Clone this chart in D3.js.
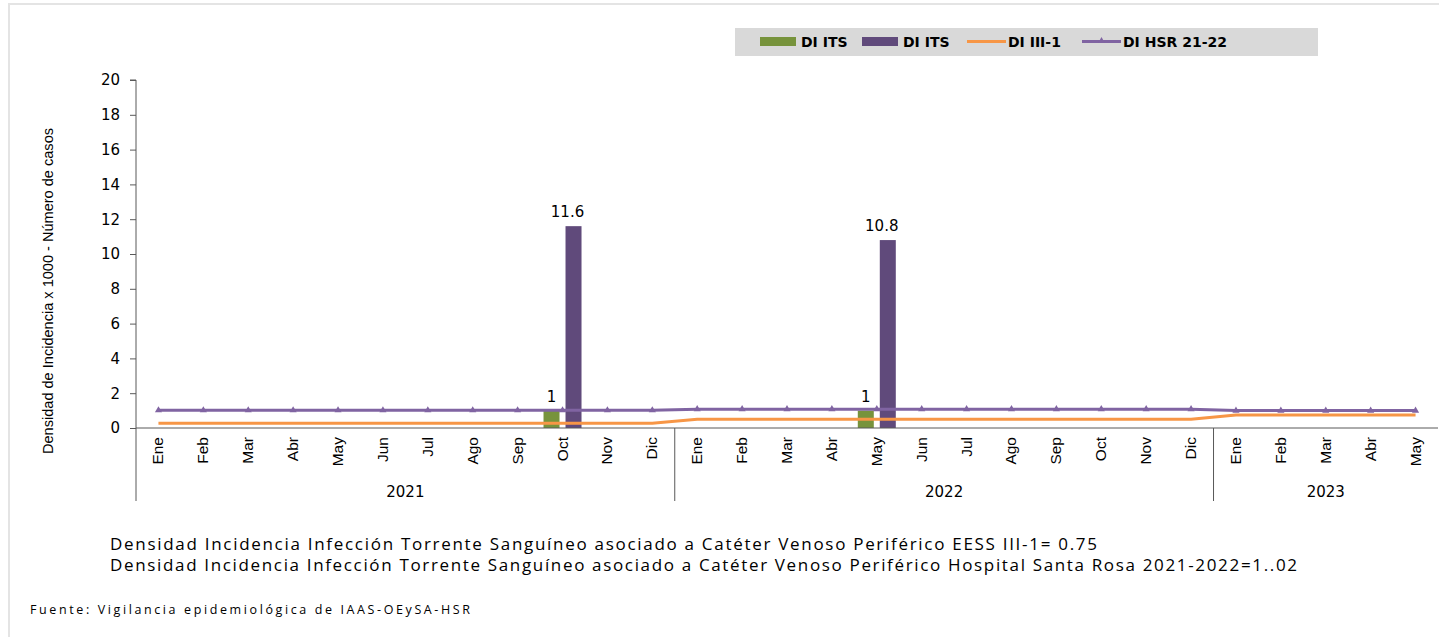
<!DOCTYPE html>
<html>
<head>
<meta charset="utf-8">
<script src="https://cdn.jsdelivr.net/npm/d3@7"></script>
<style>
  body { margin: 0; background: #fff; }
  svg { display: block; }
</style>
</head>
<body>
<div id="chart"></div>
<script>
// months and years
const years = ["2021", "2022", "2023"];
const monthsPerYear = [
  ["Ene","Feb","Mar","Abr","May","Jun","Jul","Ago","Sep","Oct","Nov","Dic"],
  ["Ene","Feb","Mar","Abr","May","Jun","Jul","Ago","Sep","Oct","Nov","Dic"],
  ["Ene","Feb","Mar","Abr","May"]
];

// number of cases (green bars) and incidence density (purple bars), null = no bar
const casesITS = [null,null,null,null,null,null,null,null,null,1,null,null,
                  null,null,null,null,1,null,null,null,null,null,null,null,
                  null,null,null,null,null];
const densityITS = [null,null,null,null,null,null,null,null,null,11.6,null,null,
                    null,null,null,null,10.8,null,null,null,null,null,null,null,
                    null,null,null,null,null];
// reference lines
const diIII1 = [0.28,0.28,0.28,0.28,0.28,0.28,0.28,0.28,0.28,0.28,0.28,0.28,
                0.5,0.5,0.5,0.5,0.5,0.5,0.5,0.5,0.5,0.5,0.5,0.5,
                0.75,0.75,0.75,0.75,0.75];
const diHSR = [1.02,1.02,1.02,1.02,1.02,1.02,1.02,1.02,1.02,1.02,1.02,1.02,
               1.08,1.08,1.08,1.08,1.08,1.08,1.08,1.08,1.08,1.08,1.08,1.08,
               1.0,1.0,1.0,1.0,1.0];
const yTicks = [0,2,4,6,8,10,12,14,16,18,20];

const notes = [
  "Densidad Incidencia Infección Torrente Sanguíneo asociado a Catéter Venoso Periférico  EESS III-1= 0.75",
  "Densidad Incidencia Infección Torrente Sanguíneo asociado a Catéter Venoso Periférico Hospital Santa Rosa 2021-2022=1..02"
];
const source = "Fuente: Vigilancia epidemiológica de IAAS-OEySA-HSR";

const W = 1439, H = 637;
const colGreen = "#77933C", colPurpleBar = "#604A7B", colOrange = "#F79646", colPurple = "#8064A2";
const narrow = "'Liberation Sans', Arial, sans-serif";
const wide = "'DejaVu Sans', Verdana, sans-serif";

// flatten categories
const cats = [];
monthsPerYear.forEach((ms, yi) => ms.forEach((m, mi) => cats.push({ key: yi + "-" + mi, m, yi })));

const svg = d3.select("#chart").append("svg").attr("width", W).attr("height", H);

// faint outer frame
svg.append("line").attr("x1", 8).attr("x2", W).attr("y1", 4).attr("y2", 4)
  .attr("stroke", "#e4e4e4").attr("stroke-width", 2);
svg.append("line").attr("x1", 9).attr("x2", 9).attr("y1", 4).attr("y2", H)
  .attr("stroke", "#e4e4e4").attr("stroke-width", 2);

const x0 = 136, x1 = 1438, yTop = 80, yBase = 428;
const x = d3.scaleBand().domain(cats.map(c => c.key)).range([x0, x1]);
const y = d3.scaleLinear().domain([0, 20]).range([yBase, yTop]);
const cx = k => x(k) + x.bandwidth() / 2;

// y axis
const yAxis = svg.append("g").attr("transform", `translate(${x0},0)`)
  .call(d3.axisLeft(y).tickValues(yTicks).tickSize(6).tickPadding(10));
yAxis.select(".domain").attr("stroke", "#595959").attr("d", `M-6,${yTop}H0V${yBase}`);
yAxis.selectAll(".tick line").attr("stroke", "#595959");
yAxis.selectAll("text").attr("font-family", wide).attr("font-size", 15).attr("fill", "#000");

svg.append("text")
  .attr("transform", `translate(53,291) rotate(-90)`)
  .attr("text-anchor", "middle")
  .attr("font-family", narrow).attr("font-size", 15).attr("fill", "#000")
  .attr("textLength", 326).attr("lengthAdjust", "spacingAndGlyphs")
  .text("Densidad de Incidencia x 1000 - Número de casos");

// bars
const bw = 16, off = 11;
svg.append("g").selectAll("rect").data(cats.filter((c, i) => casesITS[i] != null)).join("rect")
  .attr("x", c => cx(c.key) - off - bw / 2)
  .attr("width", bw)
  .attr("y", c => y(casesITS[cats.indexOf(c)]))
  .attr("height", c => yBase - y(casesITS[cats.indexOf(c)]))
  .attr("fill", colGreen);
svg.append("g").selectAll("rect").data(cats.filter((c, i) => densityITS[i] != null)).join("rect")
  .attr("x", c => cx(c.key) + off - bw / 2)
  .attr("width", bw)
  .attr("y", c => y(densityITS[cats.indexOf(c)]))
  .attr("height", c => yBase - y(densityITS[cats.indexOf(c)]))
  .attr("fill", colPurpleBar);

// lines
const line = arr => d3.line().x((c, i) => cx(c.key)).y((c, i) => y(arr[i]))(cats);
svg.append("path").attr("d", line(diIII1)).attr("fill", "none")
  .attr("stroke", colOrange).attr("stroke-width", 3);
svg.append("path").attr("d", line(diHSR)).attr("fill", "none")
  .attr("stroke", colPurple).attr("stroke-width", 3);
svg.append("g").selectAll("path").data(cats).join("path")
  .attr("transform", (c, i) => `translate(${cx(c.key)},${y(diHSR[i])})`)
  .attr("d", d3.symbol(d3.symbolTriangle, 22))
  .attr("fill", colPurple);

// bar labels
svg.append("g").selectAll("text").data(cats.filter((c, i) => casesITS[i] != null)).join("text")
  .attr("x", c => cx(c.key) - off)
  .attr("y", c => y(casesITS[cats.indexOf(c)]) - 9)
  .attr("text-anchor", "middle").attr("font-family", wide).attr("font-size", 15)
  .text(c => casesITS[cats.indexOf(c)]);
svg.append("g").selectAll("text").data(cats.filter((c, i) => densityITS[i] != null)).join("text")
  .attr("x", c => cx(c.key) + off - 6)
  .attr("y", c => y(densityITS[cats.indexOf(c)]) - 9)
  .attr("text-anchor", "middle").attr("font-family", wide).attr("font-size", 15)
  .text(c => densityITS[cats.indexOf(c)]);

// x axis
svg.append("line").attr("x1", x0).attr("x2", x1).attr("y1", yBase).attr("y2", yBase)
  .attr("stroke", "#595959");
svg.append("g").selectAll("text").data(cats).join("text")
  .attr("transform", c => `translate(${cx(c.key) + 5},${yBase + 9}) rotate(-90)`)
  .attr("text-anchor", "end")
  .attr("font-family", narrow).attr("font-size", 15.5).attr("fill", "#000")
  .text(c => c.m);

let start = 0;
const sepXs = [x0];
years.forEach((yr, yi) => {
  const n = monthsPerYear[yi].length;
  const a = x(cats[start].key), b = x(cats[start + n - 1].key) + x.bandwidth();
  sepXs.push(b);
  svg.append("text").attr("x", (a + b) / 2).attr("y", 497)
    .attr("text-anchor", "middle").attr("font-family", wide).attr("font-size", 15)
    .text(yr);
  start += n;
});
svg.append("g").selectAll("line").data(sepXs.slice(0, -1)).join("line")
  .attr("x1", d => d).attr("x2", d => d).attr("y1", yBase).attr("y2", 501)
  .attr("stroke", "#595959");

// legend
const lg = svg.append("g");
lg.append("rect").attr("x", 735).attr("y", 28).attr("width", 583).attr("height", 28).attr("fill", "#D9D9D9");
const legendItems = [
  { label: "DI ITS", type: "bar", color: colGreen, x: 760 },
  { label: "DI ITS", type: "bar", color: colPurpleBar, x: 862 },
  { label: "DI III-1", type: "line", color: colOrange, x: 967 },
  { label: "DI HSR 21-22", type: "tri", color: colPurple, x: 1082 }
];
legendItems.forEach(it => {
  if (it.type === "bar") {
    lg.append("rect").attr("x", it.x).attr("y", 37).attr("width", 36).attr("height", 9).attr("fill", it.color);
  } else {
    lg.append("line").attr("x1", it.x).attr("x2", it.x + 39).attr("y1", 41.5).attr("y2", 41.5)
      .attr("stroke", it.color).attr("stroke-width", 3);
    if (it.type === "tri") {
      lg.append("path").attr("transform", `translate(${it.x + 19.5},41)`)
        .attr("d", d3.symbol(d3.symbolTriangle, 20)).attr("fill", it.color);
    }
  }
  lg.append("text").attr("x", it.x + 41).attr("y", 47)
    .attr("font-family", wide).attr("font-weight", "bold").attr("font-size", 14)
    .text(it.label);
});

// footnotes
const noteLens = [987, 1187];
svg.append("g").selectAll("text").data(notes).join("text")
  .attr("x", 110).attr("y", (d, i) => 550 + i * 21)
  .attr("font-family", "'Open Sans', sans-serif").attr("font-size", 17).attr("fill", "#000")
  .attr("textLength", (d, i) => noteLens[i]).attr("lengthAdjust", "spacing")
  .text(d => d);
svg.append("text").attr("x", 30).attr("y", 614)
  .attr("font-family", "'Open Sans', sans-serif").attr("font-size", 12.5).attr("fill", "#000")
  .attr("textLength", 440).attr("lengthAdjust", "spacing")
  .text(source);
</script>
</body>
</html>
